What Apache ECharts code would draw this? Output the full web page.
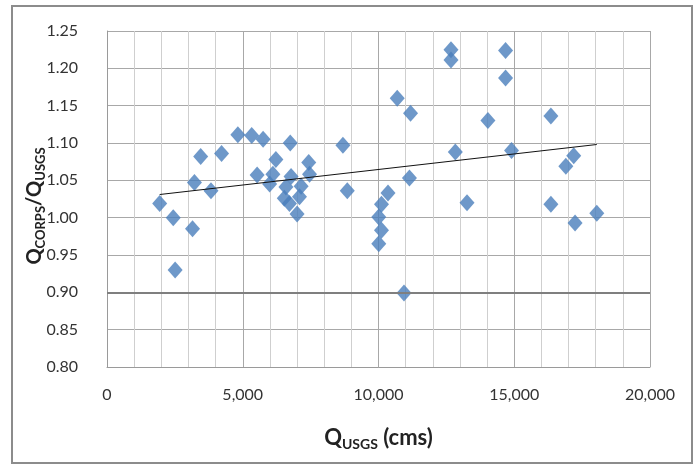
<!DOCTYPE html>
<html>
<head>
<meta charset="utf-8">
<script src="https://cdn.jsdelivr.net/npm/echarts@6/dist/echarts.min.js"></script>
<style>
  html, body { margin: 0; padding: 0; background: #fff; }
  #chart { width: 699px; height: 467px; }
</style>
</head>
<body>
<div id="chart"></div>
<script>
// Q_USGS (cms) vs ratio Q_CORPS / Q_USGS
var qUsgs = [1940, 2440, 3150, 2510, 3220, 3450, 3830, 4220, 4820, 5330,
  5750, 6750, 6220, 5530, 6110, 5990, 6780, 6590, 6530, 6720,
  7090, 7150, 7000, 7430, 7460, 8690, 8850, 10690, 11180, 11140,
  10350, 10110, 10010, 10110, 10010, 10940, 12670, 12670, 14680, 14680,
  14030, 16350, 12830, 14900, 17190, 16900, 13260, 16350, 17240, 18040];
var ratio = [1.019, 1.000, 0.985, 0.930, 1.047, 1.082, 1.036, 1.086, 1.111, 1.110,
  1.105, 1.100, 1.078, 1.057, 1.058, 1.045, 1.055, 1.041, 1.026, 1.019,
  1.028, 1.042, 1.005, 1.074, 1.058, 1.097, 1.036, 1.160, 1.140, 1.053,
  1.033, 1.018, 1.001, 0.983, 0.965, 0.899, 1.225, 1.211, 1.224, 1.187,
  1.130, 1.136, 1.088, 1.090, 1.083, 1.069, 1.020, 1.018, 0.993, 1.006];

// linear trend line as drawn (end points)
var trendX = [1940, 18040];
var trendY = [1.031, 1.098];

var xTicks = [0, 5000, 10000, 15000, 20000];
var yTicks = [0.80, 0.85, 0.90, 0.95, 1.00, 1.05, 1.10, 1.15, 1.20, 1.25];

var points = qUsgs.map(function (x, i) { return [x, ratio[i]]; });
var trend = trendX.map(function (x, i) { return [x, trendY[i]]; });

var chart = echarts.init(document.getElementById('chart'));
var font = 'Lato, "Open Sans", sans-serif';

var xTitleRich = {
  q: { fontFamily: font, fontSize: 22, fontWeight: 'bold', color: '#222' },
  s: { fontFamily: font, fontSize: 14, fontWeight: 'bold', color: '#222', padding: [12, 0, 0, 0] }
};
var yTitleRich = {
  q: { fontFamily: font, fontSize: 20, fontWeight: 'bold', color: '#222' },
  s: { fontFamily: font, fontSize: 13, fontWeight: 'bold', color: '#222', padding: [11, 0, 0, 0] }
};

var option = {
  backgroundColor: '#fff',
  animation: false,
  graphic: [{
    type: 'rect',
    shape: { x: 12, y: 6, width: 680, height: 457 },
    style: { fill: 'none', stroke: '#8c8c8c', lineWidth: 2 },
    silent: true
  }],
  grid: { left: 107, right: 49, top: 31, bottom: 100, containLabel: false },
  xAxis: {
    type: 'value',
    min: xTicks[0],
    max: xTicks[xTicks.length - 1],
    interval: 5000,
    name: '{q|Q}{s|USGS}{q| (cms)}',
    nameLocation: 'middle',
    nameGap: 58,
    nameTextStyle: { rich: xTitleRich },
    axisLine: { show: true, lineStyle: { color: '#9a9a9a', width: 1 } },
    axisTick: { show: false },
    axisLabel: {
      margin: 20,
      fontFamily: font,
      fontSize: 16,
      color: '#333',
      formatter: function (v) { return v.toLocaleString('en-US'); }
    },
    splitLine: { show: true, lineStyle: { color: '#a8a8a8', width: 1 } },
    minorTick: { show: false, splitNumber: 5 },
    minorSplitLine: { show: true, lineStyle: { color: '#cfcfcf', width: 1 } }
  },
  yAxis: {
    type: 'value',
    min: yTicks[0],
    max: yTicks[yTicks.length - 1],
    interval: 0.05,
    name: '{q|Q}{s|CORPS}{q|/Q}{s|USGS}',
    nameLocation: 'middle',
    nameGap: 60,
    nameRotate: 90,
    nameMoveOverlap: false,
    nameTextStyle: { rich: yTitleRich, padding: [0, 14, 0, 0] },
    axisLine: { show: true, lineStyle: { color: '#9a9a9a', width: 1 } },
    axisTick: { show: false },
    axisLabel: {
      margin: 29,
      fontFamily: font,
      fontSize: 16,
      color: '#333',
      formatter: function (v) { return v.toFixed(2); }
    },
    splitLine: { show: true, lineStyle: { color: '#a8a8a8', width: 1 } }
  },
  series: [
    {
      type: 'line',
      data: trend,
      showSymbol: false,
      symbol: 'none',
      lineStyle: { color: '#111', width: 1 },
      z: 3,
      markLine: {
        silent: true,
        symbol: 'none',
        label: { show: false },
        lineStyle: { color: '#7f7f7f', width: 2, type: 'solid' },
        data: [{ yAxis: 0.90 }]
      }
    },
    {
      type: 'scatter',
      data: points,
      symbol: 'diamond',
      symbolSize: [15, 17],
      itemStyle: { color: '#4A7EBB' },
      z: 2
    }
  ]
};

chart.setOption(option);
</script>
</body>
</html>
